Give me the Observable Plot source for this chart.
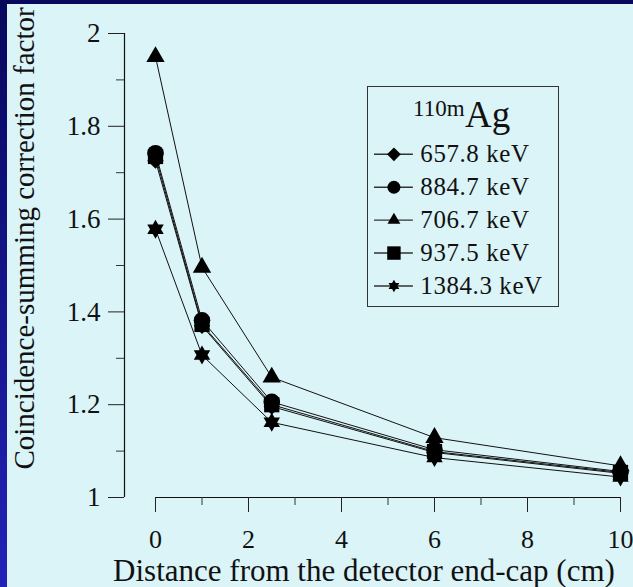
<!DOCTYPE html>
<html>
<head>
<meta charset="utf-8">
<script src="https://cdn.jsdelivr.net/npm/d3@7"></script>
<script src="https://cdn.jsdelivr.net/npm/@observablehq/plot@0.6"></script>
<style>
  html, body { margin: 0; padding: 0; }
  #frame { position: relative; width: 633px; height: 587px; overflow: hidden;
    background: linear-gradient(to bottom, #07075c, #2222b8); }
  #inner { position: absolute; left: 7px; top: 4px; right: 0; bottom: 0; background: #dbf4f8; }
  #chart { position: absolute; left: 0; top: 0; }
  #legend { position: absolute; left: 367px; top: 86px; width: 192px; height: 221px;
    box-sizing: border-box; border: 1.5px solid #333; }
  #legend .sup { position: absolute; left: 45px; top: 10px; font: 23px "Liberation Serif", serif; line-height: 1; color: #111; }
  #legend .el { position: absolute; left: 97px; top: 9px; font: 37px "Liberation Serif", serif; line-height: 1; color: #111; }
  #legend .plotwrap { position: absolute; left: -1.5px; top: -1.5px; }
</style>
</head>
<body>
<div id="frame">
  <div id="inner"></div>
  <div id="chart"></div>
  <div id="legend">
    <span class="sup">110m</span><span class="el">Ag</span>
    <div class="plotwrap" id="legendplot"></div>
  </div>
</div>
<script>
// ---- data ----
const distances = [0, 1, 2.5, 6, 10];               // cm
const series = ["657.8 keV", "884.7 keV", "706.7 keV", "937.5 keV", "1384.3 keV"];
const cf_657_8  = [1.726, 1.370, 1.196, 1.097, 1.052];
const cf_884_7  = [1.742, 1.382, 1.206, 1.103, 1.056];
const cf_706_7  = [1.950, 1.496, 1.259, 1.129, 1.068];
const cf_937_5  = [1.735, 1.373, 1.200, 1.099, 1.054];
const cf_1384_3 = [1.578, 1.307, 1.162, 1.086, 1.044];
const yMajorTicks = [1, 1.2, 1.4, 1.6, 1.8, 2];
const yMinorTicks = [1.1, 1.3, 1.5, 1.7, 1.9];
const xMajorTicks = [0, 2, 4, 6, 8, 10];
const xMinorTicks = [1, 3, 5, 7, 9];
const xTitle = "Distance from the detector end-cap (cm)";
const yTitle = "Coincidence-summing correction factor";

const valuesBySeries = [cf_657_8, cf_884_7, cf_706_7, cf_937_5, cf_1384_3];
const rows = series.flatMap((s, i) => distances.map((d, j) => ({series: s, distance: d, cf: valuesBySeries[i][j]})));

// ---- styles ----
const hexagram = {
  draw(ctx, size) {
    const R = Math.sqrt(size / Math.PI);
    for (const off of [-Math.PI / 2, Math.PI / 2]) {
      for (let k = 0; k < 3; k++) {
        const a = off + k * 2 * Math.PI / 3;
        const px = R * Math.cos(a), py = R * Math.sin(a);
        if (k === 0) ctx.moveTo(px, py); else ctx.lineTo(px, py);
      }
      ctx.closePath();
    }
  }
};
const symbolOf = {"657.8 keV": "diamond2", "884.7 keV": "circle", "706.7 keV": "triangle", "937.5 keV": "square", "1384.3 keV": hexagram};
const rChart  = {"657.8 keV": 7.4, "884.7 keV": 8.3, "706.7 keV": 6.8, "937.5 keV": 8.6, "1384.3 keV": 9.5};
const rLegend = {"657.8 keV": 6.2, "884.7 keV": 6.5, "706.7 keV": 4.8, "937.5 keV": 7.6, "1384.3 keV": 6.2};
const font = '"Liberation Serif", "Times New Roman", serif';

const yAxisOffset = -31;

const chart = Plot.plot({
  width: 633,
  height: 587,
  marginLeft: 155,
  marginRight: 13,
  marginTop: 33,
  marginBottom: 90,
  style: {background: "transparent", fontFamily: font, color: "#111"},
  x: {domain: [0, 10], axis: null},
  y: {domain: [1, 2], axis: null},
  marks: [
    // y axis
    Plot.ruleX([0], {dx: yAxisOffset, stroke: "#111", strokeWidth: 1.2}),
    Plot.axisY({ticks: yMajorTicks, tickSize: 16, tickPadding: 8, dx: yAxisOffset, fontSize: 27,
      tickFormat: d => String(d), stroke: "#222", label: null}),
    Plot.axisY({ticks: yMinorTicks, tickSize: 8, dx: yAxisOffset, tickFormat: () => "", stroke: "#333", label: null}),
    // x axis
    Plot.ruleY([1], {x1: 0, x2: 10, stroke: "#111", strokeWidth: 1.2}),
    Plot.axisX({ticks: xMajorTicks, tickSize: 15, tickPadding: 17, fontSize: 26,
      tickFormat: d => String(d), stroke: "#222", label: null}),
    Plot.axisX({ticks: xMinorTicks, tickSize: 8, tickFormat: () => "", stroke: "#333", label: null}),
    // data
    Plot.line(rows, {x: "distance", y: "cf", z: "series", stroke: "#111", strokeWidth: 1}),
    ...series.map(s => Plot.dot(rows.filter(d => d.series === s),
      {x: "distance", y: "cf", symbol: symbolOf[s], r: rChart[s], fill: "#000", stroke: null})),
    // titles
    Plot.text([xTitle], {frameAnchor: "bottom", lineAnchor: "bottom", textAnchor: "middle", dx: -24, dy: 83, fontSize: 31, fill: "#111"}),
    Plot.text([yTitle], {frameAnchor: "left", rotate: -90, lineAnchor: "bottom", textAnchor: "middle", dx: 33 - 155, dy: -27, fontSize: 29, fill: "#111"})
  ]
});
document.getElementById("chart").appendChild(chart);

const legend = Plot.plot({
  width: 192,
  height: 221,
  margin: 0,
  style: {background: "transparent", fontFamily: font, color: "#111", overflow: "visible", letterSpacing: "0.6px"},
  x: {domain: [0, 1], range: [7, 46], axis: null},
  y: {type: "point", domain: series, range: [66, 201], padding: 0, axis: null},
  marks: [
    Plot.ruleY(series, {y: d => d, x1: 0, x2: 1, stroke: "#333", strokeWidth: 1.4}),
    ...series.map(s => Plot.dot([s], {x: 0.5, y: d => d, symbol: symbolOf[s], r: rLegend[s], fill: "#000", stroke: null})),
    Plot.text(series, {x: 1, y: d => d, text: d => d, dx: 7, textAnchor: "start", fontSize: 25, fill: "#111"})
  ]
});
document.getElementById("legendplot").appendChild(legend);
</script>
</body>
</html>
